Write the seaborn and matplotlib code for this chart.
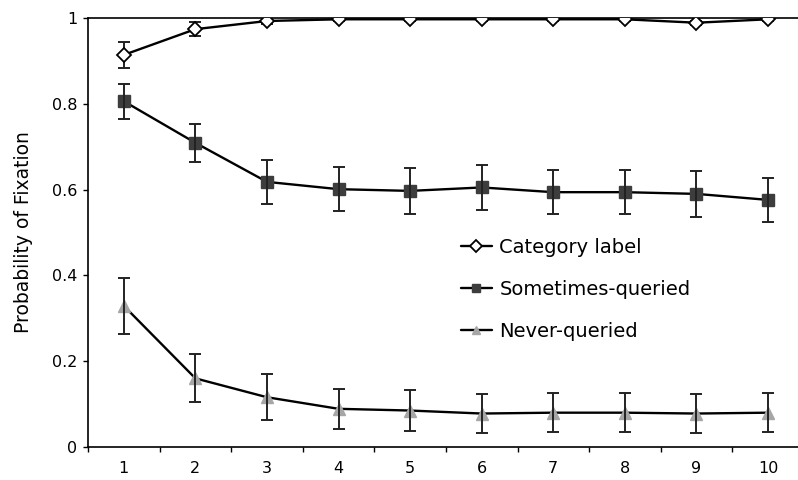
import numpy as np
import pandas as pd
import matplotlib
matplotlib.use("Agg")
import matplotlib.pyplot as plt
import seaborn as sns

# Block number on the x axis
blocks = [1, 2, 3, 4, 5, 6, 7, 8, 9, 10]

# Mean probability of fixation per block
category_label = [0.914, 0.974, 0.993, 0.997, 0.997, 0.997, 0.997, 0.997, 0.989, 0.997]
sometimes_queried = [0.806, 0.709, 0.618, 0.601, 0.597, 0.605, 0.594, 0.594, 0.590, 0.576]
never_queried = [0.329, 0.160, 0.116, 0.089, 0.085, 0.078, 0.080, 0.080, 0.078, 0.080]

# Error bar half-widths
category_label_err = [0.031, 0.016, 0.006, 0.003, 0.003, 0.003, 0.003, 0.003, 0.005, 0.003]
sometimes_queried_err = [0.041, 0.045, 0.052, 0.052, 0.054, 0.053, 0.052, 0.052, 0.053, 0.051]
never_queried_err = [0.065, 0.056, 0.053, 0.046, 0.047, 0.046, 0.046, 0.046, 0.046, 0.046]

series_names = ["Category label", "Sometimes-queried", "Never-queried"]
y_ticks = [0, 0.2, 0.4, 0.6, 0.8, 1]
y_tick_labels = ["0", "0.2", "0.4", "0.6", "0.8", "1"]

sns.set_style("white")
plt.rcParams["font.family"] = ["DejaVu Sans"]
plt.rcParams["text.color"] = "black"
plt.rcParams["axes.labelcolor"] = "black"
plt.rcParams["xtick.color"] = "black"
plt.rcParams["ytick.color"] = "black"

df = pd.DataFrame({
    "block": blocks * 3,
    "p": category_label + sometimes_queried + never_queried,
    "err": category_label_err + sometimes_queried_err + never_queried_err,
    "series": [s for s in series_names for _ in blocks],
})

fig = plt.figure(figsize=(7.98, 4.8), dpi=100)
ax = fig.add_axes([0.1103, 0.06875, 0.897, 0.89375])

styles = {
    "Category label": dict(marker="D", mfc="white", mec="black", ms=7.5, mew=1.3, z=5),
    "Sometimes-queried": dict(marker="s", mfc="#3d3d3d", mec="#3d3d3d", ms=8, mew=1, z=3),
    "Never-queried": dict(marker="^", mfc="#a6a6a6", mec="#a6a6a6", ms=9, mew=1, z=3),
}

for name in series_names:
    sub = df[df["series"] == name]
    st = styles[name]
    sns.lineplot(data=sub, x="block", y="p", ax=ax, color="black", linewidth=1.7,
                 marker=st["marker"], markerfacecolor=st["mfc"], markeredgecolor=st["mec"],
                 markersize=st["ms"], markeredgewidth=st["mew"], label=name,
                 zorder=st["z"], errorbar=None)
    ax.errorbar(sub["block"], sub["p"], yerr=sub["err"], fmt="none", ecolor="#222222",
                elinewidth=1.4, capsize=4, capthick=1.4, zorder=4)

ax.set_xlim(0.5, 10.5)
ax.set_ylim(0, 1)
ax.set_yticks(y_ticks)
ax.set_yticklabels(y_tick_labels)
ax.set_xticks(blocks)
ax.set_xticklabels([str(b) for b in blocks])
ax.set_xticks(np.arange(0.5, 11, 1), minor=True)
ax.tick_params(axis="x", which="major", length=0, labelsize=11.5, pad=10)
ax.tick_params(axis="x", which="minor", length=3.5, width=1, direction="out", color="black", bottom=True)
ax.tick_params(axis="y", which="major", length=3.5, width=1, direction="out", color="black",
               left=True, labelsize=11.5, pad=4)

for side in ["left", "bottom", "top"]:
    ax.spines[side].set_visible(True)
    ax.spines[side].set_color("black")
    ax.spines[side].set_linewidth(1.2)
ax.spines["right"].set_visible(False)

ax.set_xlabel("")
ax.set_ylabel("Probability of Fixation", fontsize=13.5, labelpad=14)

leg = ax.legend(loc="upper left", bbox_to_anchor=(0.496, 0.529), frameon=False,
                fontsize=14, labelspacing=1.2, handlelength=1.6, handletextpad=0.4)
for h in leg.legend_handles:
    h.set_markersize(6)

fig.savefig("out.png", dpi=100)
